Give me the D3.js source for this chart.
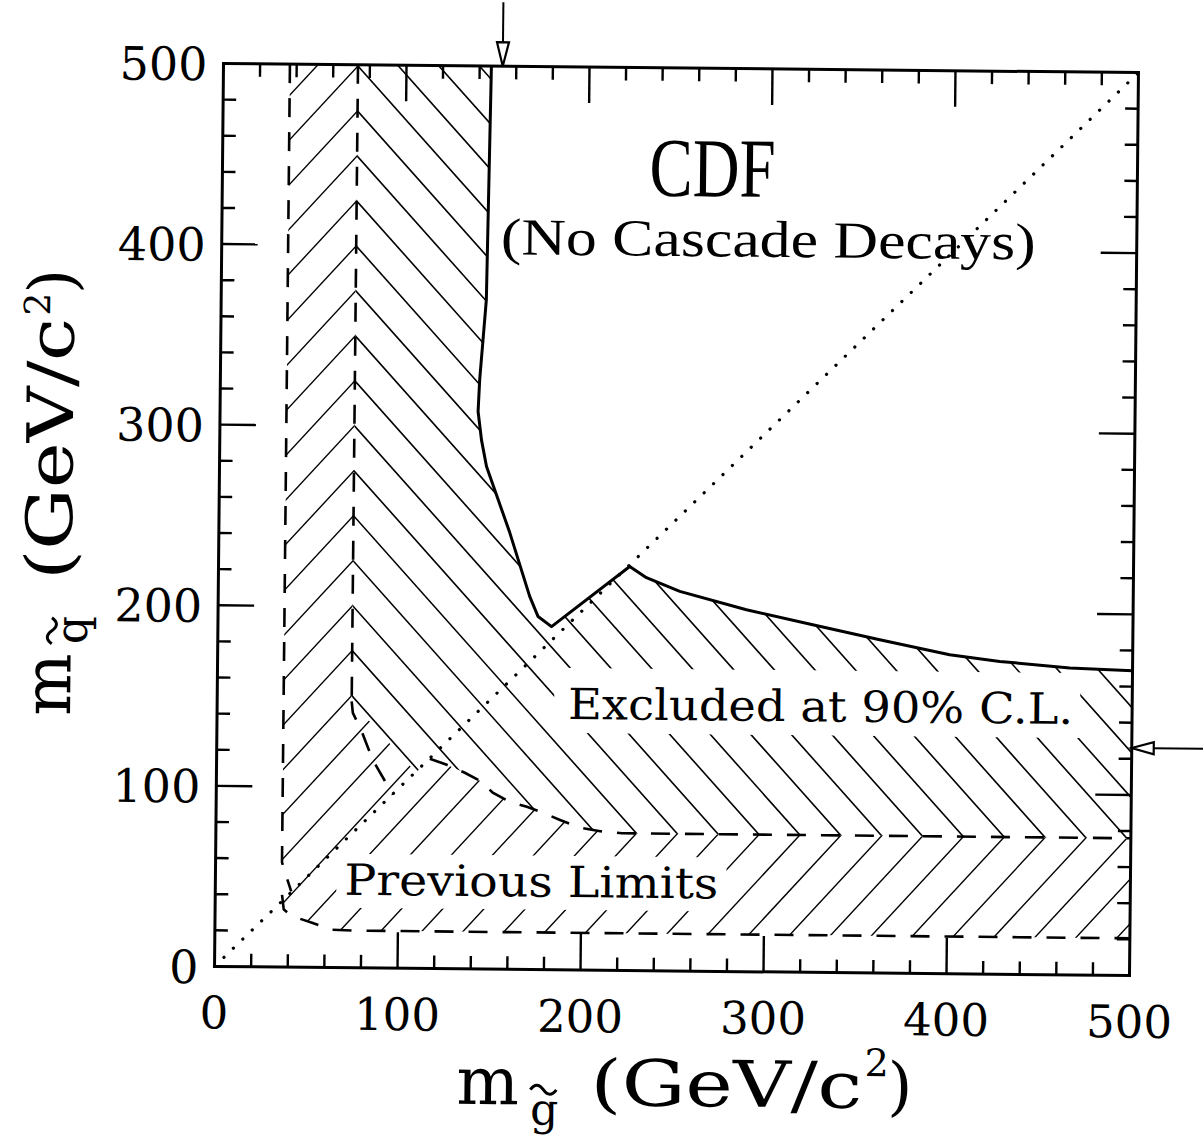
<!DOCTYPE html>
<html>
<head>
<meta charset="utf-8">
<title>CDF squark / gluino mass limits</title>
<script src="https://cdn.jsdelivr.net/npm/d3@7"></script>
<style>
  body { margin: 0; background: #fff; }
  text { fill: #000; }
</style>
</head>
<body>
<div id="chart"></div>
<script>
// axis ticks
const xTicks = [0, 100, 200, 300, 400, 500];
const yTicks = [0, 100, 200, 300, 400, 500];
const minorStep = 20;

// CDF 90% CL limit (gluino mass, squark mass)
const cdfLimit = [[146.4,500],[144.9,370.6],[141.7,326.3],[141,308.7],[143,293],[145.9,278.3],
  [159,241.7],[170.2,206.6],[174.9,195.5],[182.3,190],[224.7,223.7],[233.9,217.6],[252.2,210.2],
  [288.7,200.4],[325,192.5],[361.7,184.5],[400,176.6],[427.4,173.2],[465.7,170],[500,168.7]];

// previous limits (dashed)
const outerVert = [[36.3,500],[36.3,58],[38.5,51],[41.5,42]];
const outerBottom = [[36.5,40],[37.5,32],[41,29],[46,27],[53,24.7],[64,21],[75,20.6],[500,20.6]];
const innerVert = [[73.5,500],[73.5,147.5]];
const curveA = [[73.5,147.5],[74.2,141.2],[79.2,130.8],[85.3,115.3],[96.5,96]];
const curveB = [[73.5,147.5],[109,108.5],[116.5,116.2],[125.8,112.9],[135.7,108.6],[145,103.7],
  [151.1,97.7],[160.4,92.8],[169.8,90.1],[178.5,86.9],[188,83],[198.8,78.8],[210,77],[222,76],[500,76]];

// arrows marking the limits on the axes
const gluinoArrow = 152.6;
const squarkArrow = 126;

// hatching: both families meet on m_g = 73.5
const hatchSlope = 1.115;
const hatchStep = 24.9;
const hatchBase = 150.7;
const hatchX = 73.5;

const W = 1203, H = 1143;
const x = d3.scaleLinear().domain([0, 500]).range([219, 1134]);
const y = d3.scaleLinear().domain([0, 500]).range([971, 68]);
const line = d3.line().x(d => x(d[0])).y(d => y(d[1]));

const svg = d3.select("#chart").append("svg")
  .attr("width", W).attr("height", H)
  .style("font-family", "'DejaVu Serif', serif");

const defs = svg.append("defs");
const g = svg.append("g").attr("transform", "rotate(0.57, 676.5, 519.5)");

// regions
const cdfRegion = [[73.5,500]].concat(cdfLimit, curveB.slice().reverse());
const prevRegion = outerVert.concat(outerBottom, curveB.slice().reverse(), [[73.5,500]]);

defs.append("clipPath").attr("id", "clipCdf")
  .append("path").attr("d", line(cdfRegion) + "Z");
defs.append("clipPath").attr("id", "clipPrev")
  .append("path").attr("d", line(prevRegion) + "Z");

const vertices = d3.range(-30, 31).map(j => hatchBase + j * hatchStep);

g.append("g").attr("clip-path", "url(#clipCdf)")
  .selectAll("line").data(vertices).join("line")
  .attr("x1", x(-20)).attr("y1", v => y(v - hatchSlope * (-20 - hatchX)))
  .attr("x2", x(520)).attr("y2", v => y(v - hatchSlope * (520 - hatchX)))
  .attr("stroke", "#000").attr("stroke-width", 1.6);

g.append("g").attr("clip-path", "url(#clipPrev)")
  .selectAll("line").data(vertices).join("line")
  .attr("x1", x(-20)).attr("y1", v => y(v + hatchSlope * (-20 - hatchX)))
  .attr("x2", x(520)).attr("y2", v => y(v + hatchSlope * (520 - hatchX)))
  .attr("stroke", "#000").attr("stroke-width", 1.4);

// white boxes behind the two labels inside the hatching
g.append("rect").attr("x", 556).attr("y", 669).attr("width", 526).attr("height", 65).attr("fill", "#fff");
g.append("rect").attr("x", 340).attr("y", 857).attr("width", 390).attr("height", 54).attr("fill", "#fff");

// diagonal m_q = m_g
g.append("path").attr("d", line([[0,0],[500,500]]))
  .attr("fill", "none").attr("stroke", "#000").attr("stroke-width", 3.2)
  .attr("stroke-linecap", "round").attr("stroke-dasharray", "0.1 13");

// dashed previous limits (the first bit of curve B sits under a hatch line)
[outerVert, outerBottom, innerVert, curveA, curveB.slice(2)].forEach(c => {
  g.append("path").attr("d", line(c))
    .attr("fill", "none").attr("stroke", "#000").attr("stroke-width", 2.6)
    .attr("stroke-dasharray", "19 15");
});

// CDF limit
g.append("path").attr("d", line(cdfLimit))
  .attr("fill", "none").attr("stroke", "#000").attr("stroke-width", 3)
  .attr("stroke-linejoin", "round");

// frame
g.append("rect").attr("x", x(0)).attr("y", y(500))
  .attr("width", x(500) - x(0)).attr("height", y(0) - y(500))
  .attr("fill", "none").attr("stroke", "#000").attr("stroke-width", 3);

// ticks on all four sides, inward
const tickVals = d3.range(minorStep, 500, minorStep);
const tl = v => (v % 100 === 0 ? 36 : 13);
const ticks = g.append("g").attr("stroke", "#000").attr("stroke-width", 2.4);
tickVals.forEach(v => {
  ticks.append("line").attr("x1", x(v)).attr("x2", x(v)).attr("y1", y(0)).attr("y2", y(0) - tl(v));
  ticks.append("line").attr("x1", x(v)).attr("x2", x(v)).attr("y1", y(500)).attr("y2", y(500) + tl(v));
  ticks.append("line").attr("y1", y(v)).attr("y2", y(v)).attr("x1", x(0)).attr("x2", x(0) + tl(v));
  ticks.append("line").attr("y1", y(v)).attr("y2", y(v)).attr("x1", x(500)).attr("x2", x(500) - tl(v));
});

// tick labels
g.selectAll(".xl").data(xTicks).join("text")
  .attr("x", d => x(d)).attr("y", y(0) + 62)
  .attr("text-anchor", "middle").attr("font-size", 45).text(d => d);
g.selectAll(".yl").data(yTicks).join("text")
  .attr("x", x(0) - 16).attr("y", d => y(d) + 17)
  .attr("text-anchor", "end").attr("font-size", 46).text(d => d);

// arrows
const ax = x(gluinoArrow), ay = y(500);
g.append("line").attr("x1", ax).attr("x2", ax).attr("y1", ay - 64).attr("y2", ay - 24)
  .attr("stroke", "#000").attr("stroke-width", 2);
g.append("path").attr("d", `M${ax - 6},${ay - 24}L${ax + 6},${ay - 24}L${ax},${ay}Z`)
  .attr("fill", "#fff").attr("stroke", "#000").attr("stroke-width", 2.2);
const bx = x(500), by = y(squarkArrow);
g.append("line").attr("x1", bx + 20).attr("x2", bx + 75).attr("y1", by).attr("y2", by)
  .attr("stroke", "#000").attr("stroke-width", 2);
g.append("path").attr("d", `M${bx + 22},${by - 6}L${bx + 22},${by + 6}L${bx},${by}Z`)
  .attr("fill", "#fff").attr("stroke", "#000").attr("stroke-width", 2.2);

// annotations
g.append("text").attr("x", 646).attr("y", 196).attr("font-family", "'Liberation Serif', serif")
  .attr("font-size", 84).attr("textLength", 126).attr("lengthAdjust", "spacingAndGlyphs").text("CDF");
g.append("text").attr("x", 498).attr("y", 256).attr("font-family", "'Liberation Serif', serif")
  .attr("font-size", 52).attr("textLength", 535).attr("lengthAdjust", "spacingAndGlyphs")
  .text("(No Cascade Decays)");
g.append("text").attr("x", 570).attr("y", 720).attr("font-size", 43)
  .attr("textLength", 505).attr("lengthAdjust", "spacingAndGlyphs").text("Excluded at 90% C.L.");
g.append("text").attr("x", 348).attr("y", 898).attr("font-size", 43)
  .attr("textLength", 374).attr("lengthAdjust", "spacingAndGlyphs").text("Previous Limits");

// tilde accent drawn as a small wave
const tilde = (x0, y0, w) => `M${x0},${y0 + 3}q${w / 4},-9 ${w / 2},0t${w / 2},0`;

// x axis title
const xt = g.append("g");
xt.append("text").attr("x", 462).attr("y", 1106).attr("font-size", 66).text("m");
xt.append("text").attr("x", 536).attr("y", 1126).attr("font-size", 44).text("g");
xt.append("path").attr("d", tilde(536, 1088, 26)).attr("fill", "none")
  .attr("stroke", "#000").attr("stroke-width", 3);
xt.append("text").attr("x", 596).attr("y", 1106).attr("font-size", 64)
  .attr("textLength", 272).attr("lengthAdjust", "spacingAndGlyphs").text("(GeV/c");
xt.append("text").attr("x", 870).attr("y", 1074).attr("font-size", 38).text("2");
xt.append("text").attr("x", 893).attr("y", 1106).attr("font-size", 64).text(")");

// y axis title
const yt = g.append("g").attr("transform", "translate(72,0) rotate(-90)");
yt.append("text").attr("x", -722).attr("y", 0).attr("font-size", 66).text("m");
yt.append("text").attr("x", -650).attr("y", 16).attr("font-size", 44).text("q");
yt.append("path").attr("d", tilde(-650, -22, 26)).attr("fill", "none")
  .attr("stroke", "#000").attr("stroke-width", 3);
yt.append("text").attr("x", -586).attr("y", 0).attr("font-size", 64)
  .attr("textLength", 262).attr("lengthAdjust", "spacingAndGlyphs").text("(GeV/c");
yt.append("text").attr("x", -322).attr("y", -24).attr("font-size", 36).text("2");
yt.append("text").attr("x", -300).attr("y", 0).attr("font-size", 64).text(")");
</script>
</body>
</html>
